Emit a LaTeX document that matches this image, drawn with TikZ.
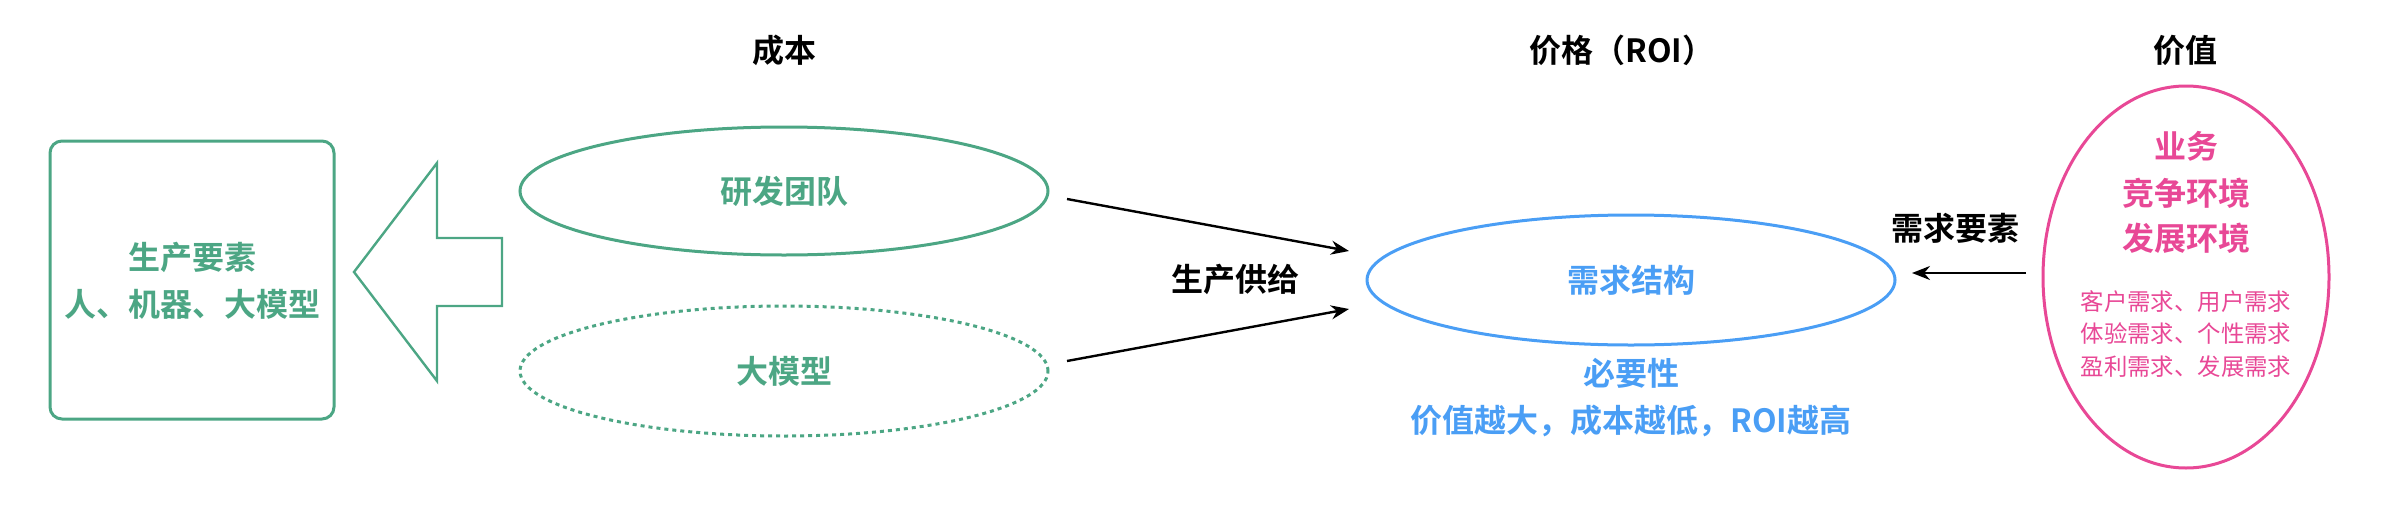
\documentclass[tikz,border=0pt]{standalone}
\usepackage{fontspec}
\setmainfont{Noto Sans CJK SC}[BoldFont={Noto Sans CJK SC Bold}]
\usetikzlibrary{shapes.geometric,arrows.meta}
\definecolor{cgreen}{RGB}{76,166,132}
\definecolor{cblue}{RGB}{74,158,245}
\definecolor{cpink}{RGB}{232,72,150}
\newcommand{\bigfont}{\fontsize{16}{19}\selectfont\bfseries}
\tikzset{
  big/.style={font=\bigfont, inner sep=0pt},
  small/.style={font=\fontsize{11.7}{14}\selectfont, inner sep=0pt},
  oval/.style={ellipse, line width=1.5pt, inner sep=0pt},
  conn/.style={line width=1.2pt, -{Stealth[length=9pt,width=7pt]}},
}
\begin{document}
\begin{tikzpicture}[x=0.5pt,y=-0.5pt]
\useasboundingbox (0,0) rectangle (2392,530);
% titles
\node[big] (t1) at (784,50) {成本};
\node[big] (t2) at (1622,50) {价格（ROI）};
\node[big] (t3) at (2185,50) {价值};
% left box
\node[draw=cgreen, line width=1.5pt, rounded corners=6pt, minimum width=142pt, minimum height=139pt, inner sep=0pt] (box) at (192,280) {};
\node[big, text=cgreen] (b1) at (192,257) {生产要素};
\node[big, text=cgreen] (b2) at (192,304) {人、机器、大模型};
% hollow arrow
\draw[cgreen, line width=1.2pt, line join=miter] (354,272) -- (437,163) -- (437,238) -- (502,238) -- (502,306) -- (437,306) -- (437,381) -- cycle;
% cost ellipses
\node[oval, draw=cgreen, minimum width=264pt, minimum height=64pt, text=cgreen, font=\bigfont] (e1) at (784,191) {研发团队};
\node[oval, draw=cgreen, dash pattern=on 2pt off 2pt, minimum width=264pt, minimum height=65pt, text=cgreen, font=\bigfont] (e2) at (784,371) {大模型};
% demand structure
\node[oval, draw=cblue, minimum width=264pt, minimum height=65pt, text=cblue, font=\bigfont] (e3) at (1631,280) {需求结构};
\node[big, text=cblue] (n1) at (1631,373) {必要性};
\node[big, text=cblue] (n2) at (1631,421) {价值越大，成本越低，ROI越高};
% value ellipse
\node[oval, draw=cpink, minimum width=143pt, minimum height=191pt] (e4) at (2186,277) {};
\node[big, text=cpink] (p1) at (2186,146) {业务};
\node[big, text=cpink] (p2) at (2186,193) {竞争环境};
\node[big, text=cpink] (p3) at (2186,238) {发展环境};
\node[small, text=cpink] (p4) at (2186,302) {客户需求、用户需求};
\node[small, text=cpink] (p5) at (2186,334) {体验需求、个性需求};
\node[small, text=cpink] (p6) at (2186,367) {盈利需求、发展需求};
% labels
\node[big] (l1) at (1235,279) {生产供给};
\node[big] (l2) at (1955,228) {需求要素};
% connectors
\coordinate (a1s) at (1067,199);
\coordinate (a1e) at (1349,251);
\coordinate (a2s) at (1067,361);
\coordinate (a2e) at (1349,309);
\coordinate (a3s) at (2026,273);
\coordinate (a3e) at (1912,273);
\draw[conn] (a1s) -- (a1e);
\draw[conn] (a2s) -- (a2e);
\draw[conn] (a3s) -- (a3e);
\end{tikzpicture}
\end{document}
